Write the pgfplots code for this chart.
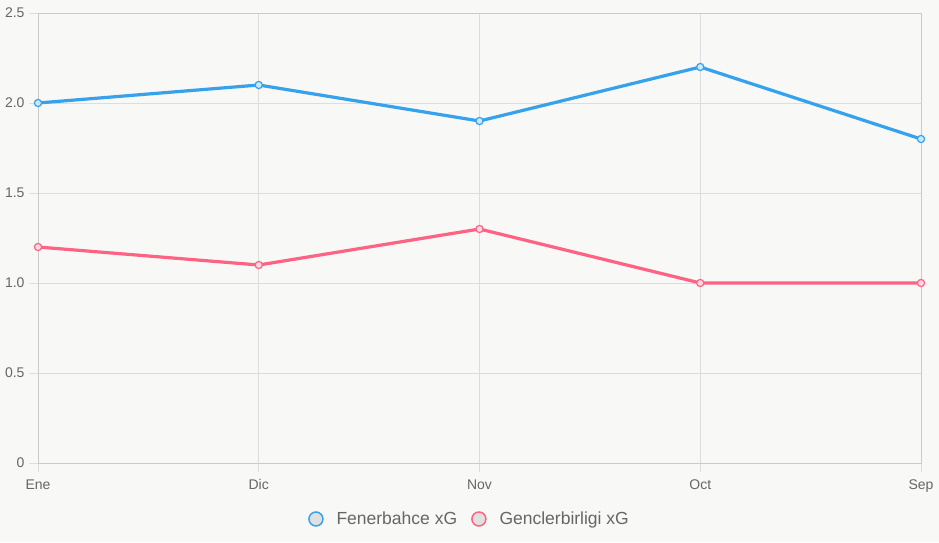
\documentclass[border=0pt]{standalone}
\usepackage{pgfplots}
\pgfplotsset{compat=1.18}
\usepackage{fontspec}
\setmainfont{Liberation Sans}
\definecolor{bg}{HTML}{F8F8F6}
\definecolor{fb}{HTML}{36A2EB}
\definecolor{gb}{HTML}{FF6384}
\definecolor{txt}{HTML}{666666}
\definecolor{gridc}{HTML}{DDDDDD}
\definecolor{legfill}{HTML}{E0E0E0}
\begin{document}
\begin{tikzpicture}[x=1pt,y=1pt]
\fill[bg] (0,0) rectangle (939,542);
\useasboundingbox (0,0) rectangle (939,542);
\begin{axis}[
  at={(38pt,79pt)}, anchor=origin,
  scale only axis, width=883pt, height=450pt,
  xmin=0, xmax=4, ymin=0, ymax=2.5,
  xtick={0,1,2,3,4},
  xticklabels={Ene,Dic,Nov,Oct,Sep},
  ytick={0,0.5,1,1.5,2,2.5},
  yticklabels={0,0.5,1.0,1.5,2.0,2.5},
  grid=major,
  major grid style={gridc, line width=0.8pt},
  axis line style={gridc!80!gray, line width=0.8pt},
  tick pos=left,
  tick align=outside,
  major tick length=9pt,
  tick style={gridc, line width=0.8pt},
  every tick label/.append style={font=\fontsize{14}{16}\selectfont, text=txt},
  yticklabel style={xshift=-1pt},
  xticklabel style={yshift=-4pt},
  /pgf/number format/assume math mode=true,
  clip=false,
  legend columns=2,
  legend style={draw=none, fill=none, at={(0.4887,-0.1244)}, anchor=center,
    font=\fontsize{17.5}{20}\selectfont, text=txt,
    /tikz/every even column/.append style={column sep=12pt},
    nodes={inner sep=2pt}},
  legend cell align=left,
]
\addplot[fb, line width=3.2pt, mark=*, mark size=3.6pt,
  mark options={fill=fb!25, draw=fb, line width=1.2pt},
  legend image code/.code={\draw[fb, fill=legfill, line width=1.5pt] (7pt,0) circle (7pt);\path (24pt,0);}]
  coordinates {(0,2.0) (1,2.1) (2,1.9) (3,2.2) (4,1.8)};
\addlegendentry{Fenerbahce xG}
\addplot[gb, line width=3.2pt, mark=*, mark size=3.6pt,
  mark options={fill=gb!25, draw=gb, line width=1.2pt},
  legend image code/.code={\draw[gb, fill=legfill, line width=1.5pt] (7pt,0) circle (7pt);\path (24pt,0);}]
  coordinates {(0,1.2) (1,1.1) (2,1.3) (3,1.0) (4,1.0)};
\addlegendentry{Genclerbirligi xG}
\end{axis}
\end{tikzpicture}
\end{document}
